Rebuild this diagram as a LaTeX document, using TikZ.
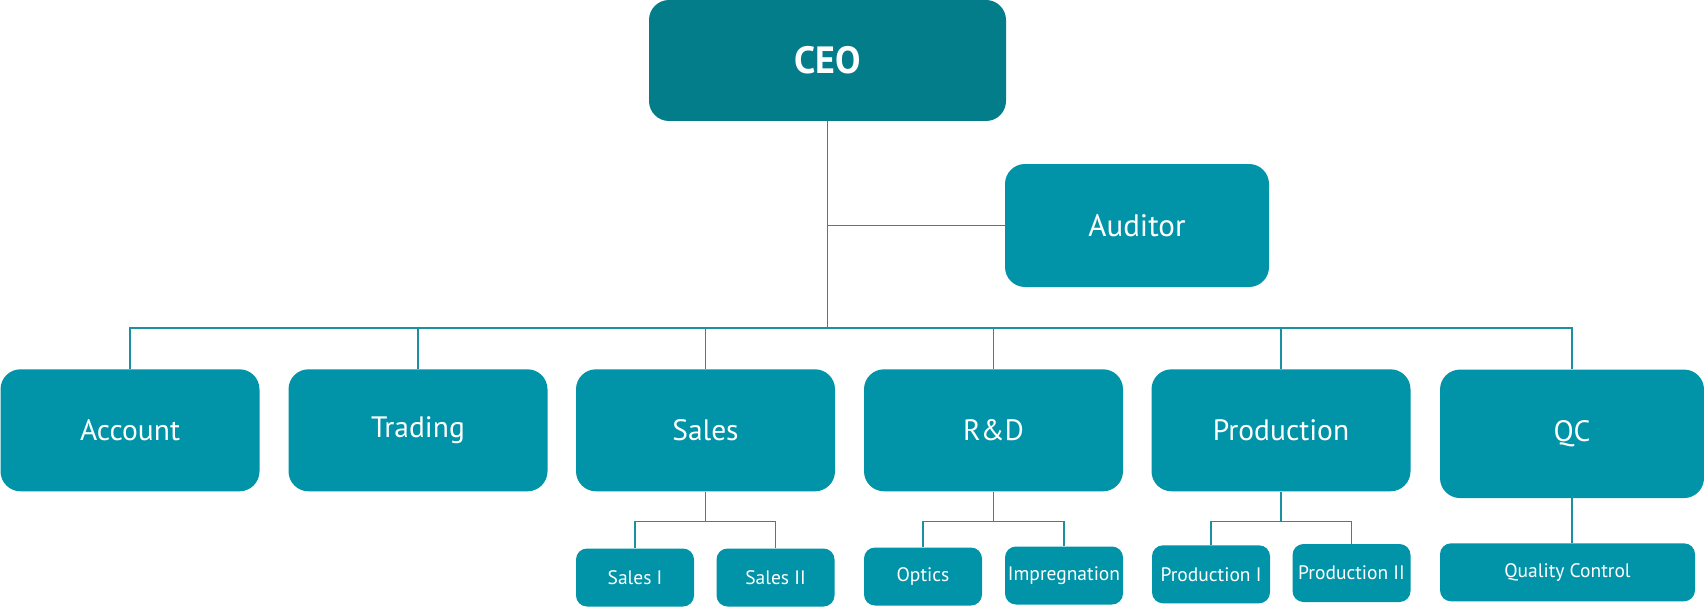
\documentclass[tikz,border=0pt]{standalone}
\usepackage{fontspec}
\setmainfont{PT Sans}
\definecolor{ceoC}{HTML}{037D8A}
\definecolor{boxC}{HTML}{0194A8}
\definecolor{lineC}{HTML}{1A90A2}
\tikzset{
  box/.style={rectangle, rounded corners=20pt, fill=boxC, text=white, inner sep=0pt, anchor=center},
  bigbox/.style={box, minimum width=259pt, minimum height=122pt, font=\fontsize{29.5}{32}\selectfont},
  smallbox/.style={box, rounded corners=11pt, minimum width=118pt, minimum height=58pt, font=\fontsize{19.5}{22}\selectfont},
  conn/.style={draw=lineC, line width=1.1pt}
}
\begin{document}
\begin{tikzpicture}[x=1pt,y=-1pt]
\useasboundingbox (0,0) rectangle (1704,607);
% top
\node[box, fill=ceoC, minimum width=357pt, minimum height=121pt, font=\fontsize{38}{42}\selectfont\bfseries] (ceo) at (827.5,60.5) {CEO};
\node[box, minimum width=264pt, minimum height=123pt, font=\fontsize{31}{34}\selectfont] (aud) at (1137,225.5) {Auditor};
% level 2
\node[bigbox] (acc) at (130,430.3) {Account};
\node[bigbox] (tra) at (418,430.3) {Trading};
\node[bigbox] (sal) at (705.5,430.3) {Sales};
\node[bigbox] (rd) at (993.5,430.3) {R\&D};
\node[bigbox] (pro) at (1281,430.3) {Production};
\node[bigbox, minimum width=264pt, minimum height=128.5pt] (qc) at (1572,433.8) {QC};
% level 3
\node[smallbox] (s1) at (635,577.5) {Sales I};
\node[smallbox] (s2) at (775.5,577.5) {Sales II};
\node[smallbox] (opt) at (923,576.5) {Optics};
\node[smallbox] (imp) at (1064,575.5) {Impregnation};
\node[smallbox] (p1) at (1211,574.3) {Production I};
\node[smallbox] (p2) at (1351.5,573) {Production II};
\node[smallbox, minimum width=255pt] (qcc) at (1567.5,572.3) {Quality Control};
% coordinates
\coordinate (b2) at (828,328);
\coordinate (b3) at (0,521.6);
% connectors
\draw[conn] (ceo.south) -- (ceo.south |- b2);
\draw[conn] (ceo.south |- aud.west) -- (aud.west);
\draw[conn] (acc.north) -- (acc.north |- b2) -- (qc.north |- b2) -- (qc.north);
\foreach \n in {tra,sal,rd,pro}{\draw[conn] (\n.north) -- (\n.north |- b2);}
\draw[conn] (sal.south) -- (sal.south |- b3);
\draw[conn] (s1.north) -- (s1.north |- b3) -- (s2.north |- b3) -- (s2.north);
\draw[conn] (rd.south) -- (rd.south |- b3);
\draw[conn] (opt.north) -- (opt.north |- b3) -- (imp.north |- b3) -- (imp.north);
\draw[conn] (pro.south) -- (pro.south |- b3);
\draw[conn] (p1.north) -- (p1.north |- b3) -- (p2.north |- b3) -- (p2.north);
\draw[conn] (qc.south) -- (qc.south |- qcc.north);
\end{tikzpicture}
\end{document}
